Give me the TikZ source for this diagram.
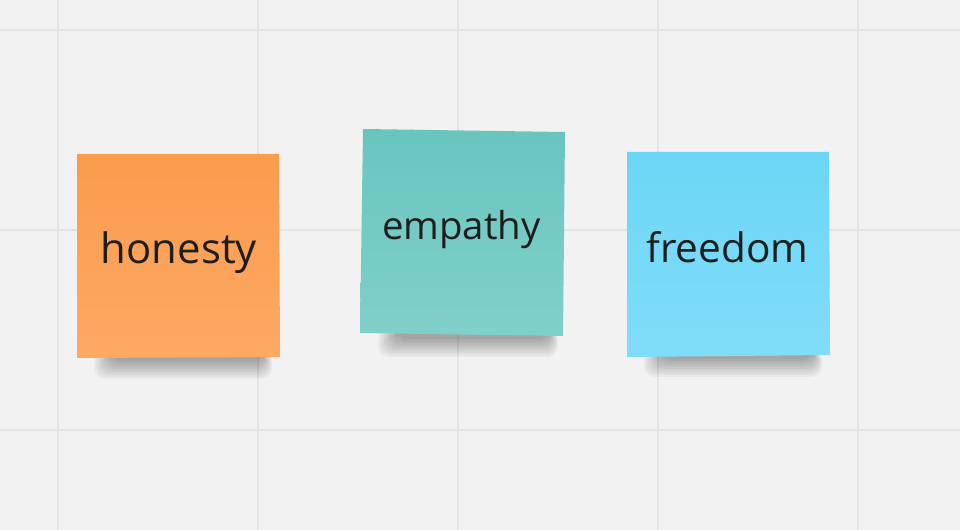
\documentclass[tikz,border=0pt]{standalone}
\usepackage{fontspec}
\setmainfont{Open Sans}
\definecolor{bg}{HTML}{F2F2F2}
\definecolor{gridc}{HTML}{E4E4E4}
\definecolor{orTop}{HTML}{F99C4E}
\definecolor{orBot}{HTML}{FFA863}
\definecolor{teTop}{HTML}{69C5BE}
\definecolor{teBot}{HTML}{80D0CA}
\definecolor{blTop}{HTML}{6CD6F6}
\definecolor{blBot}{HTML}{80DDF9}
\definecolor{ink}{HTML}{1E1E1E}
\tikzset{
  gridline/.style={gridc, line width=1.5pt},
  notetext/.style={text=ink, inner sep=0pt, anchor=base},
  shadowlayer/.style={black, opacity=0.035, rounded corners=8pt},
}
\newcommand{\noteshadow}[3]{%
  \foreach \i in {0,...,9}{%
    \fill[shadowlayer] ({#1+2*\i},{#3-4}) rectangle ({#2-\i},{#3+24-2*\i});
  }%
}
\begin{document}
\begin{tikzpicture}[x=0.75pt,y=-0.75pt]
\fill[bg] (0,0) rectangle (960,530);
\useasboundingbox (0,0) rectangle (960,530);
% grid
\foreach \gx in {58,258,458,658,858} \draw[gridline] (\gx,0) -- (\gx,530);
\foreach \gy in {30,230,430} \draw[gridline] (0,\gy) -- (960,\gy);
% shadows
\noteshadow{94}{272}{355}
\noteshadow{378}{558}{333}
\noteshadow{644}{822}{353}
% notes
\shade[top color=orTop, bottom color=orBot] (77,154) -- (279,154) -- (280,357) -- (77,358) -- cycle;
\shade[top color=teTop, bottom color=teBot] (363,129) -- (565,132) -- (563,336) -- (360,333) -- cycle;
\shade[top color=blTop, bottom color=blBot] (627,152) -- (829,152) -- (830,355) -- (627,357) -- cycle;
% texts
\node[notetext, font=\fontsize{31.4}{38}\selectfont] (honesty) at (179,263.5) {honesty};
\node[notetext, font=\fontsize{28.8}{35}\selectfont] (empathy) at (461.5,239.3) {empathy};
\node[notetext, font=\fontsize{30.4}{37}\selectfont] (freedom) at (727.5,262.7) {freedom};
\end{tikzpicture}
\end{document}
